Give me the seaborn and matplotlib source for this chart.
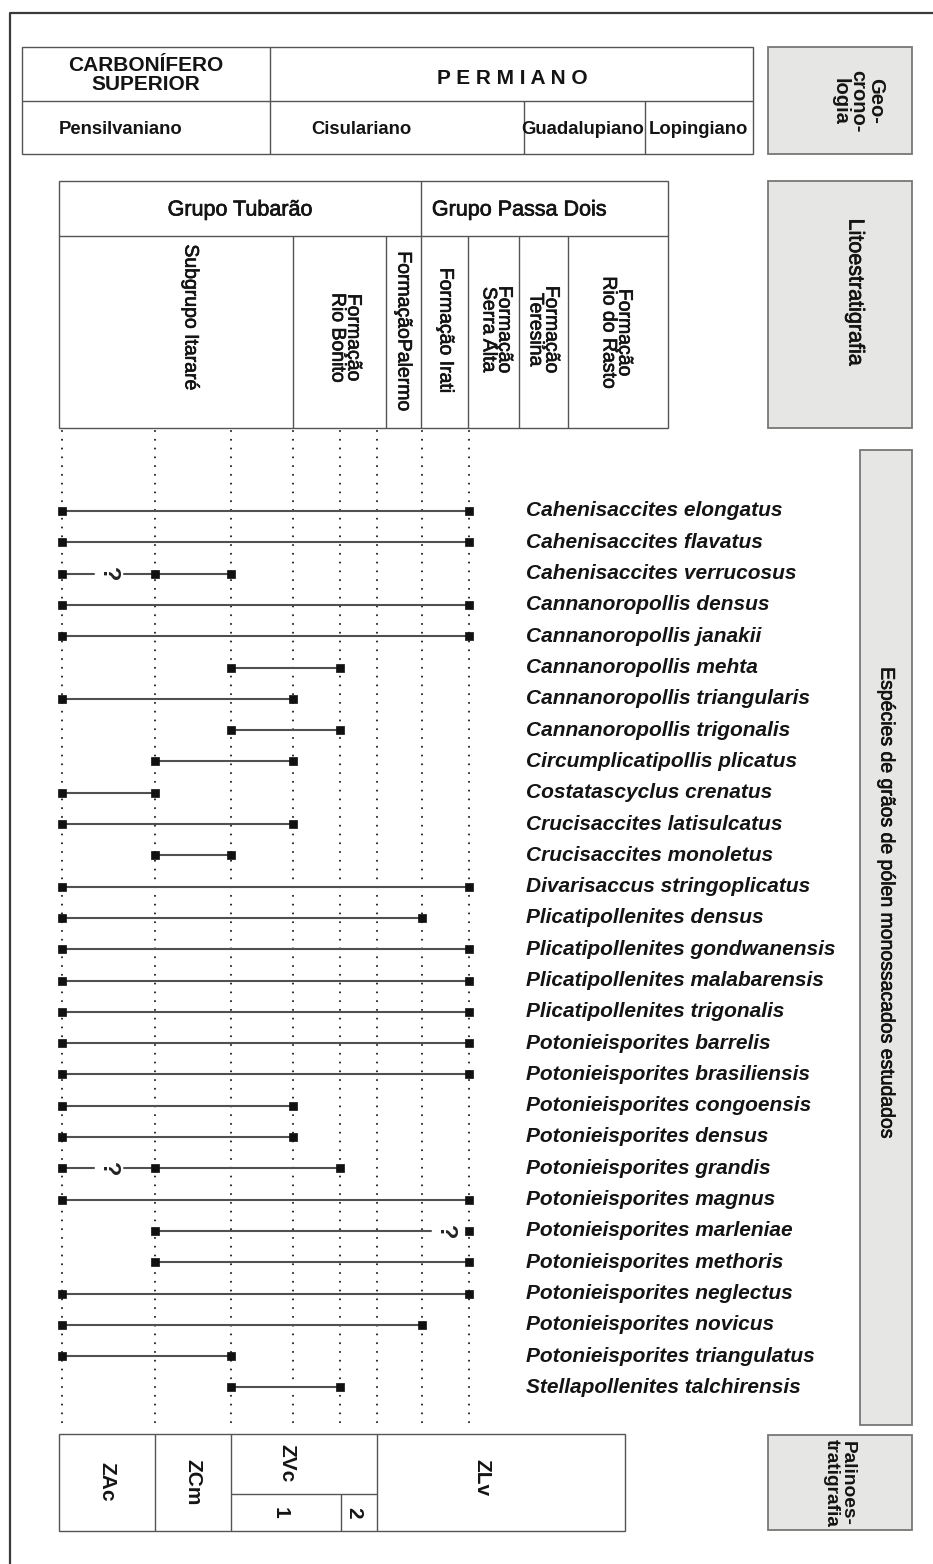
import matplotlib
matplotlib.use("Agg")
import matplotlib.pyplot as plt
import matplotlib.patheffects as pe
from matplotlib.patches import Rectangle
import numpy as np
import pandas as pd
import seaborn as sns

# ---------------------------------------------------------------- data
species = [
    "Cahenisaccites elongatus", "Cahenisaccites flavatus", "Cahenisaccites verrucosus",
    "Cannanoropollis densus", "Cannanoropollis janakii", "Cannanoropollis mehta",
    "Cannanoropollis triangularis", "Cannanoropollis trigonalis",
    "Circumplicatipollis plicatus", "Costatascyclus crenatus",
    "Crucisaccites latisulcatus", "Crucisaccites monoletus",
    "Divarisaccus stringoplicatus", "Plicatipollenites densus",
    "Plicatipollenites gondwanensis", "Plicatipollenites malabarensis",
    "Plicatipollenites trigonalis", "Potonieisporites barrelis",
    "Potonieisporites brasiliensis", "Potonieisporites congoensis",
    "Potonieisporites densus", "Potonieisporites grandis",
    "Potonieisporites magnus", "Potonieisporites marleniae",
    "Potonieisporites methoris", "Potonieisporites neglectus",
    "Potonieisporites novicus", "Potonieisporites triangulatus",
    "Stellapollenites talchirensis",
]
# stratigraphic reference levels (0 = base of ZAc ... 7 = top of Irati)
first_level = [0, 0, 0, 0, 0, 2, 0, 2, 1, 0, 0, 1, 0, 0, 0,
               0, 0, 0, 0, 0, 0, 0, 0, 1, 1, 0, 0, 0, 2]
last_level = [7, 7, 2, 7, 7, 4, 3, 4, 3, 1, 3, 2, 7, 6, 7,
              7, 7, 7, 7, 3, 3, 4, 7, 7, 7, 7, 6, 2, 4]
# doubtful stretches of a range (species, from level, to level)
doubtful = [("Cahenisaccites verrucosus", 0, 1),
            ("Potonieisporites grandis", 0, 1),
            ("Potonieisporites marleniae", 6, 7)]
extra_marker = {"Cahenisaccites verrucosus": 1, "Potonieisporites grandis": 1}

period_labels = ["CARBONÍFERO\nSUPERIOR", "P E R M I A N O"]
epoch_labels = ["Pensilvaniano", "Cisulariano", "Guadalupiano", "Lopingiano"]
group_labels = ["Grupo Tubarão", "Grupo Passa Dois"]
formation_labels = ["Subgrupo Itararé", "Formação\nRio Bonito", "FormaçãoPalermo",
                    "Formação Irati", "Formação\nSerra Alta", "Formação\nTeresina",
                    "Formação\nRio do Rasto"]
zone_labels = ["ZAc", "ZCm", "ZVc", "ZLv"]
subzone_labels = ["1", "2"]
side_labels = ["Geo-\ncrono-\nlogia", "Litoestratigrafia",
               "Espécies de grãos de pólen monossacados estudados",
               "Palinoes-\ntratigrafia"]

# ---------------------------------------------------------------- layout
LEVEL_X = [62, 155, 231, 293, 340, 377, 422, 469]
ROW_TOP, ROW_STEP = 511, 31.3
EDGE = "#555555"
GREY = "#e6e6e4"
INK = "#141414"
HEAVY = [pe.withStroke(linewidth=0.5, foreground=INK)]

sns.set_theme(style="white")
plt.rcParams["font.family"] = ["Liberation Sans", "DejaVu Sans"]

fig = plt.figure(figsize=(9.33, 15.64), dpi=100)
ax = fig.add_axes([0, 0, 1, 1])
ax.set_xlim(0, 933)
ax.set_ylim(1564, 0)
ax.axis("off")


def box(x0, y0, x1, y1, fc="white", ec=EDGE, lw=1.0):
    ax.add_patch(Rectangle((x0, y0), x1 - x0, y1 - y0, fc=fc, ec=ec, lw=lw, zorder=1))


def seg(x0, y0, x1, y1, color=EDGE, lw=1.0):
    ax.plot([x0, x1], [y0, y1], color=color, lw=lw, solid_capstyle="butt", zorder=2)


# outer frame
ax.plot([10, 10, 933], [1564, 13, 13], color="#3a3a3a", lw=1.6, zorder=2)

# geochronology table
box(22, 47, 753, 154)
seg(22, 101, 753, 101)
seg(270, 47, 270, 154)
seg(524, 101, 524, 154)
seg(645, 101, 645, 154)
ax.text(146, 75, period_labels[0], ha="center", va="center", fontsize=15,
        fontweight="bold", linespacing=0.95, color=INK)
ax.text(512, 78, period_labels[1], ha="center", va="center", fontsize=15,
        fontweight="bold", color=INK)
for x, lab in zip([121, 361, 583, 698], epoch_labels):
    ax.text(x, 129, lab, ha="center", va="center", fontsize=13.3,
            fontweight="bold", color=INK)

# lithostratigraphy table
box(59, 181, 668, 428)
seg(59, 236, 668, 236)
seg(421, 181, 421, 428)
for x in [293, 386, 468, 519, 568]:
    seg(x, 236, x, 428)
ax.text(240, 210, group_labels[0], ha="center", va="center", fontsize=15.5,
        color=INK, path_effects=HEAVY)
ax.text(519, 210, group_labels[1], ha="center", va="center", fontsize=15.5,
        color=INK, path_effects=HEAVY)
for x, y, lab in zip([190, 345, 403, 445, 496, 543, 616],
                     [318, 338, 332, 331, 330, 330, 333], formation_labels):
    ax.text(x, y, lab, ha="center", va="center", rotation=-90, fontsize=14,
            linespacing=0.9, color=INK, path_effects=HEAVY)

# side boxes
box(768, 47, 912, 154, fc=GREY, ec="#777", lw=1.3)
box(768, 181, 912, 428, fc=GREY, ec="#777", lw=1.3)
box(860, 450, 912, 1425, fc=GREY, ec="#777", lw=1.3)
box(768, 1435, 912, 1530, fc=GREY, ec="#777", lw=1.3)
ax.text(858, 101, side_labels[0], ha="center", va="center", rotation=-90,
        fontsize=14.5, fontweight="bold", linespacing=0.9, color=INK)
ax.text(855, 292, side_labels[1], ha="center", va="center", rotation=-90,
        fontsize=15.5, color=INK, path_effects=HEAVY)
ax.text(886, 905, side_labels[2], ha="center", va="center", rotation=-90,
        fontsize=14, color=INK, path_effects=HEAVY)
ax.text(839, 1483, side_labels[3], ha="center", va="center", rotation=-90,
        fontsize=13.8, fontweight="bold", linespacing=0.9, color=INK)

# palynozone table
box(59, 1434, 625, 1531)
for x in [155, 231, 377]:
    seg(x, 1434, x, 1531)
seg(231, 1494, 377, 1494)
seg(341, 1494, 341, 1531)
for x, y, lab in zip([107, 193, 287, 482], [1482, 1482, 1463, 1478], zone_labels):
    ax.text(x, y, lab, ha="center", va="center", rotation=-90, fontsize=15,
            fontweight="bold", color=INK)
for x, y, lab in zip([280, 354], [1513, 1513], subzone_labels):
    ax.text(x, y, lab, ha="center", va="center", rotation=-90, fontsize=15,
            fontweight="bold", color=INK)

# dotted reference levels
for x in LEVEL_X:
    ax.plot([x, x], [431, 1428], color="#222", lw=1.5,
            ls=(0, (0.01, 4.2)), dash_capstyle="round", zorder=1)

# ---------------------------------------------------------------- ranges
row_y = {sp: ROW_TOP + i * ROW_STEP for i, sp in enumerate(species)}
doubt = {sp: (a, b) for sp, a, b in doubtful}
GAP = 15

pieces = []
for sp, a, b in zip(species, first_level, last_level):
    xa, xb = LEVEL_X[a], LEVEL_X[b]
    if sp in doubt:
        da, db = doubt[sp]
        xm = (LEVEL_X[da] + LEVEL_X[db]) / 2
        parts = [(xa, xm - GAP), (xm + GAP, xb)]
    else:
        parts = [(xa, xb)]
    for k, (p0, p1) in enumerate(parts):
        if p1 - p0 < 10:
            continue
        uid = f"{sp}-{k}"
        pieces.append({"unit": uid, "x": p0, "y": row_y[sp]})
        pieces.append({"unit": uid, "x": p1, "y": row_y[sp]})
lines_df = pd.DataFrame(pieces)

marks = []
for sp, a, b in zip(species, first_level, last_level):
    for lv in {a, b, extra_marker.get(sp, a)}:
        marks.append({"x": LEVEL_X[lv], "y": row_y[sp]})
marks_df = pd.DataFrame(marks)

sns.lineplot(data=lines_df, x="x", y="y", units="unit", estimator=None, sort=False,
             color="#505050", lw=1.5, ax=ax, legend=False, zorder=3)
sns.scatterplot(data=marks_df, x="x", y="y", marker="s", s=26, color="#111",
                edgecolor="#111", linewidth=0.5, ax=ax, legend=False, zorder=4)

for sp, a, b in doubtful:
    xm = (LEVEL_X[a] + LEVEL_X[b]) / 2
    ax.text(xm, row_y[sp] + 1, "?", ha="center", va="center", rotation=-90,
            fontsize=17, fontweight="bold", color="#222", zorder=5)

for sp in species:
    ax.text(526, row_y[sp], sp, ha="left", va="center", fontsize=15,
            fontweight="bold", fontstyle="italic", color=INK)

ax.set_xlim(0, 933)
ax.set_ylim(1564, 0)
ax.set_xlabel("")
ax.set_ylabel("")
fig.savefig("out.png", dpi=100, facecolor="white")
